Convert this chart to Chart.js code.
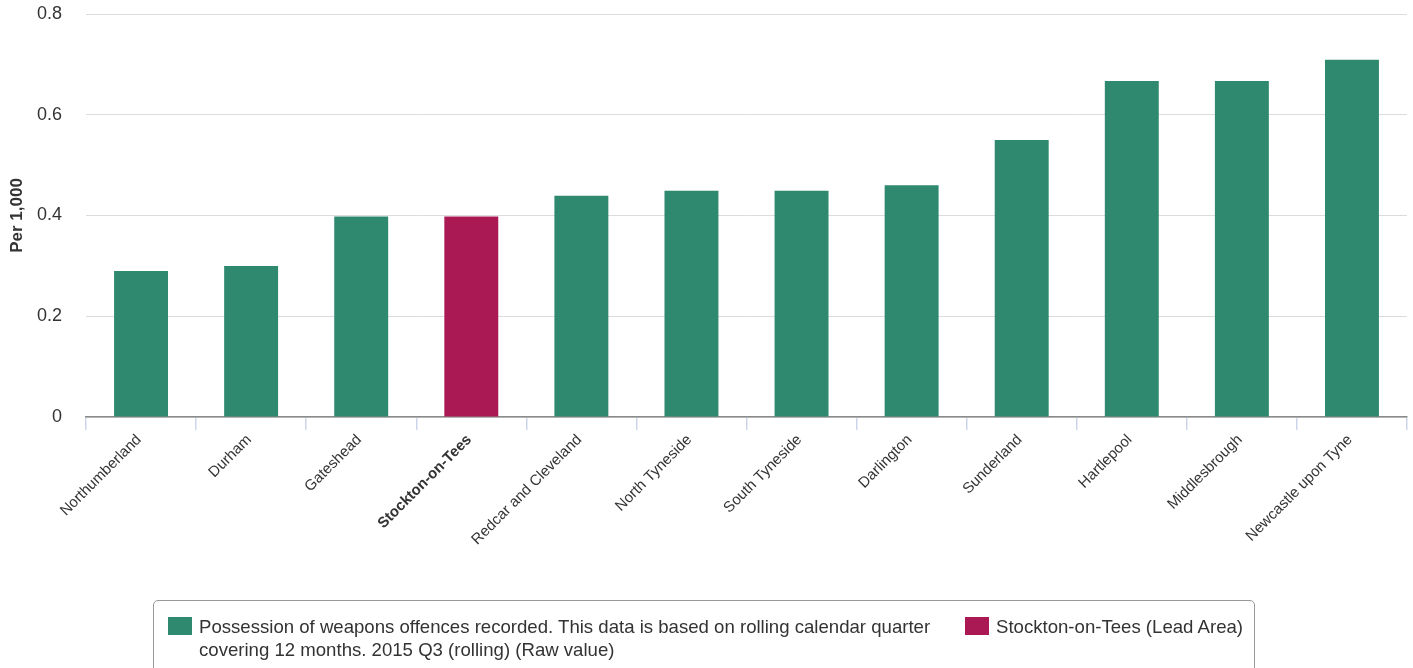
<!DOCTYPE html>
<html>
<head>
<meta charset="utf-8">
<script src="https://cdn.jsdelivr.net/npm/chart.js@4/dist/chart.umd.min.js"></script>
<style>
  html, body { margin: 0; padding: 0; background: #fff; }
  #wrap { position: relative; width: 1413px; height: 668px; overflow: hidden; font-family: "Liberation Sans", Arial, sans-serif; }
  #c { position: absolute; left: 0; top: 0; }
  #legend { position: absolute; left: 153px; top: 600px; width: 1102px; height: 90px; border: 1px solid #999; border-radius: 5px; box-sizing: border-box; color: #333; font-size: 18.6px; line-height: 23px; }
  .item { position: absolute; top: 14px; }
  .sw { position: absolute; top: 2px; width: 24px; height: 18px; }
  .txt { position: absolute; top: 0; white-space: nowrap; }
</style>
</head>
<body>
<div id="wrap">
  <canvas id="c" width="1413" height="668"></canvas>
  <div id="legend"></div>
</div>
<script>
const categories = ["Northumberland", "Durham", "Gateshead", "Stockton-on-Tees", "Redcar and Cleveland", "North Tyneside", "South Tyneside", "Darlington", "Sunderland", "Hartlepool", "Middlesbrough", "Newcastle upon Tyne"];
const values = [0.29, 0.30, 0.398, 0.398, 0.439, 0.449, 0.449, 0.46, 0.55, 0.667, 0.667, 0.709];
const leadArea = "Stockton-on-Tees";
const seriesName = "Possession of weapons offences recorded. This data is based on rolling calendar quarter|covering 12 months. 2015 Q3 (rolling) (Raw value)";
const leadName = "Stockton-on-Tees (Lead Area)";
const yTicks = [0, 0.2, 0.4, 0.6, 0.8];

const GREEN = "#2E896E";
const MAGENTA = "#AB1954";
const FONT = "'Liberation Sans', Arial, sans-serif";

const leadIndex = categories.indexOf(leadArea);

new Chart(document.getElementById("c"), {
  type: "bar",
  data: {
    labels: categories,
    datasets: [{
      data: values,
      backgroundColor: categories.map(c => c === leadArea ? MAGENTA : GREEN),
      borderWidth: 0,
      barPercentage: 0.49,
      categoryPercentage: 1.0
    }]
  },
  options: {
    responsive: false,
    animation: false,
    devicePixelRatio: 1,
    layout: { padding: { top: 14, right: 6, bottom: 101, left: 0 } },
    plugins: { legend: { display: false }, tooltip: { enabled: false } },
    scales: {
      x: {
        afterFit: s => { s.height = 150; s.paddingLeft = 0; s.paddingRight = 0; s.paddingTop = 0; s.paddingBottom = 0; },
        grid: { display: true, drawOnChartArea: false, drawTicks: true, tickLength: 13, color: "#ccd6eb", lineWidth: 1.5, offset: true },
        border: { display: true, color: "#8a8a8a", width: 1.5 },
        ticks: {
          autoSkip: false, maxRotation: 45, minRotation: 45, padding: 1, color: "#333",
          labelOffset: -2,
          font: ctx => ({ family: FONT, size: 15, weight: ctx.index === leadIndex ? "bold" : "normal" })
        }
      },
      y: {
        min: 0, max: 0.8,
        afterFit: s => { s.width = 86; s.paddingTop = 0; s.paddingBottom = 0; s.paddingLeft = 0; s.paddingRight = 0; },
        afterBuildTicks: s => { s.ticks = yTicks.map(v => ({ value: v })); },
        grid: { color: "#dcdcdc", lineWidth: 1, drawTicks: false },
        border: { display: false },
        ticks: { padding: 24, color: "#333", font: { family: FONT, size: 18 }, callback: v => String(yTicks.find(t => Math.abs(t - v) < 1e-9) ?? v) },
        title: { display: true, text: "Per 1,000", color: "#333", font: { family: FONT, size: 17, weight: "bold" }, padding: { top: 7, bottom: 4 } }
      }
    }
  }
});

// HTML legend
const legend = document.getElementById("legend");
const items = [
  { color: GREEN, lines: seriesName.split("|"), left: 14 },
  { color: MAGENTA, lines: [leadName], left: 811 }
];
items.forEach(it => {
  const d = document.createElement("div");
  d.className = "item";
  d.style.left = it.left + "px";
  const sw = document.createElement("div");
  sw.className = "sw";
  sw.style.background = it.color;
  sw.style.left = "0px";
  d.appendChild(sw);
  const t = document.createElement("div");
  t.className = "txt";
  t.style.left = "31px";
  t.innerHTML = it.lines.map(l => l.replace(/&/g, "&amp;").replace(/</g, "&lt;")).join("<br>");
  d.appendChild(t);
  legend.appendChild(d);
});
</script>
</body>
</html>
